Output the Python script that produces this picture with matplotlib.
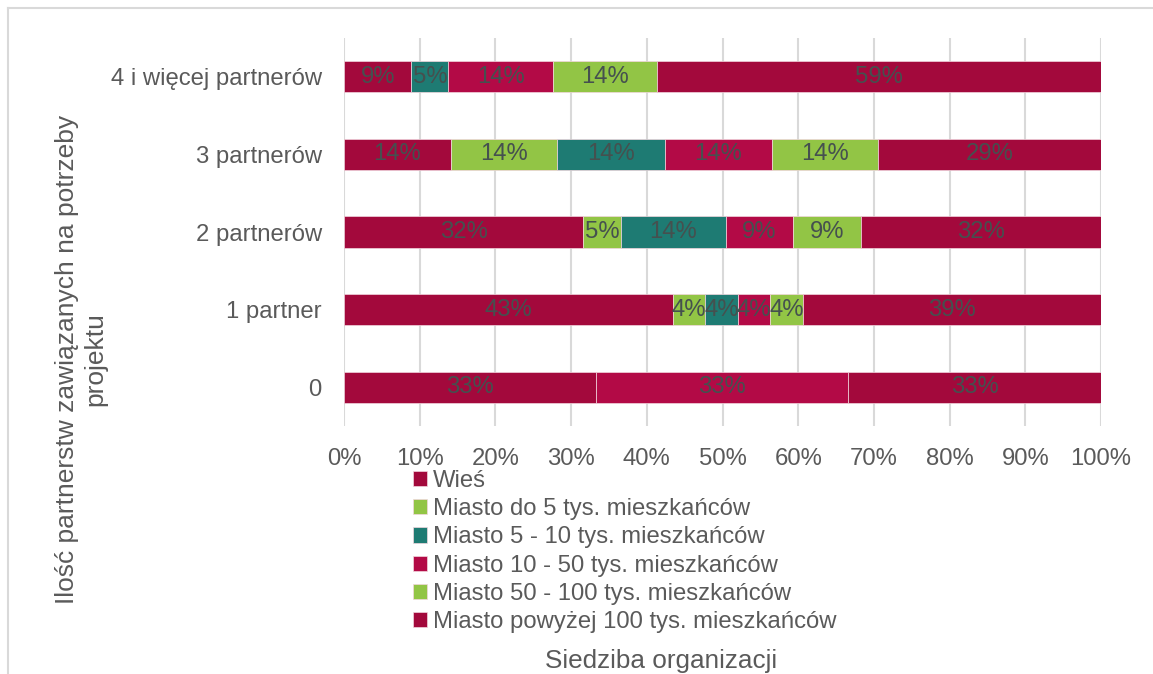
import matplotlib
matplotlib.use("Agg")
import matplotlib.pyplot as plt
from matplotlib.lines import Line2D
import numpy as np

plt.rcParams['font.family'] = ['Liberation Sans', 'DejaVu Sans']

categories = ['0', '1 partner', '2 partnerów', '3 partnerów', '4 i więcej partnerów']
series_names = ['Wieś', 'Miasto do 5 tys. mieszkańców', 'Miasto 5 - 10 tys. mieszkańców',
                'Miasto 10 - 50 tys. mieszkańców', 'Miasto 50 - 100 tys. mieszkańców',
                'Miasto powyżej 100 tys. mieszkańców']
wies = [33.3, 43.4, 31.6, 14.1, 8.9]
do5 = [0, 4.3, 5.0, 14.1, 0]
m5_10 = [0, 4.3, 13.8, 14.2, 4.9]
m10_50 = [33.3, 4.3, 8.9, 14.1, 13.8]
m50_100 = [0, 4.4, 9.0, 14.1, 13.8]
pow100 = [33.4, 39.3, 31.7, 29.4, 58.6]
x_ticks = [0, 10, 20, 30, 40, 50, 60, 70, 80, 90, 100]

colors = ['#A3093C', '#92C545', '#1E7B73', '#B30A46', '#92C545', '#A3093C']
series = [wies, do5, m5_10, m10_50, m50_100, pow100]

W, H = 1153, 674
FS = 17.2
fig = plt.figure(figsize=(W / 100, H / 100), dpi=100)
ax = fig.add_axes([344 / W, 1 - 426 / H, (1101 - 344) / W, (426 - 38) / H])

y = np.arange(len(categories))
left = np.zeros(len(categories))
handles = []
for name, vals, col in zip(series_names, series, colors):
    vals = np.array(vals, dtype=float)
    bars = ax.barh(y, vals, left=left, height=0.4, color=col, edgecolor='#f2d6de',
                   linewidth=0.5, label=name, zorder=3)
    labels = ['{:.0f}%'.format(v) if v > 0 else '' for v in vals]
    ax.bar_label(bars, labels=labels, label_type='center', color='#45504f',
                 fontsize=FS, zorder=4)
    left += vals
    handles.append(bars)

ax.set_xlim(0, 100)
ax.set_ylim(-0.5, 4.5)
ax.set_xticks(x_ticks)
ax.set_xticklabels(['{}%'.format(t) for t in x_ticks])
ax.set_yticks(y)
ax.set_yticklabels(categories)
ax.tick_params(axis='x', length=0, pad=16, labelsize=FS, labelcolor='#5a5a5a')
ax.tick_params(axis='y', length=0, pad=16, labelsize=FS, labelcolor='#5a5a5a')
ax.grid(axis='x', color='#d9d9d9', linewidth=1.5, zorder=0)
for s in ax.spines.values():
    s.set_visible(False)

fig.text(661 / W, 1 - 661 / H, 'Siedziba organizacji', ha='center', va='center',
         fontsize=18.8, color='#5a5a5a')
fig.text(81 / W, 1 - 359 / H, 'Ilość partnerstw zawiązanych na potrzeby\nprojektu',
         ha='center', va='center', rotation=90, fontsize=19, color='#5a5a5a',
         multialignment='center', linespacing=1.2)

fig.legend(handles=handles, labels=series_names, loc='upper left',
           bbox_to_anchor=(413 / W, 1 - 470 / H), frameon=False, fontsize=FS,
           labelcolor='#5a5a5a', handlelength=0.6, handleheight=0.6,
           handletextpad=0.25, labelspacing=0.26, borderpad=0, borderaxespad=0)

fig.add_artist(Line2D([8 / W, 1], [1 - 8 / H, 1 - 8 / H], transform=fig.transFigure,
                      color='#d9d9d9', linewidth=1.5))
fig.add_artist(Line2D([8 / W, 8 / W], [0, 1 - 8 / H], transform=fig.transFigure,
                      color='#d9d9d9', linewidth=1.5))

fig.savefig('out.png', dpi=100, facecolor='white')
